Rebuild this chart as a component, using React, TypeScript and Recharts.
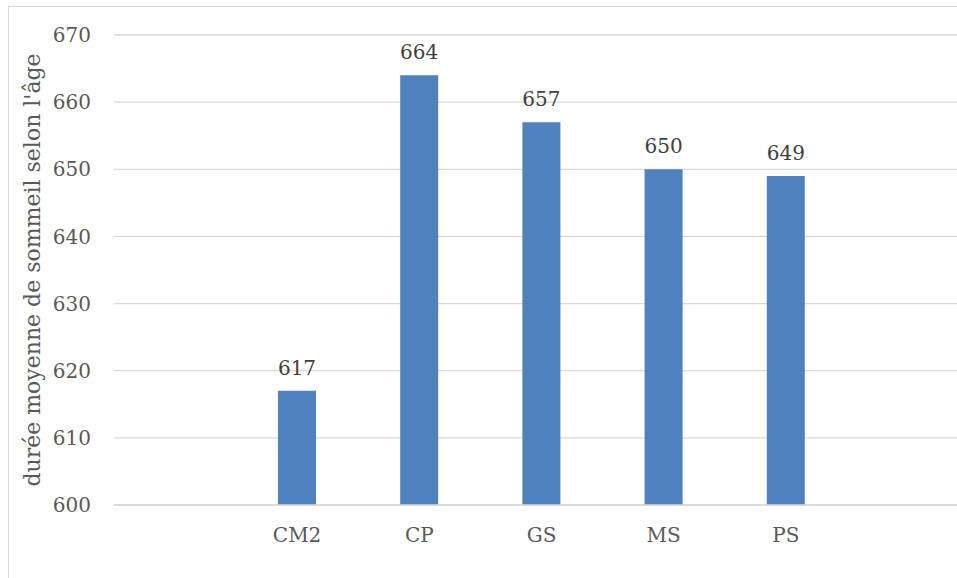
import { BarChart, Bar, XAxis, YAxis, CartesianGrid, LabelList } from "recharts";

const categories = ["CM2", "CP", "GS", "MS", "PS"];
const sleepValues = [617, 664, 657, 650, 649];
const yTicks = [600, 610, 620, 630, 640, 650, 660, 670];
const yTitle = "durée moyenne de sommeil selon l'âge";

const data = categories.map((name, i) => ({ name, value: sleepValues[i] }));

const FONT = "'DejaVu Serif', serif";

export default function App() {
  return (
    <div
      style={{
        position: "absolute",
        left: 8,
        top: 6,
        width: 948,
        height: 571,
        borderTop: "1px solid #d9d9d9",
        borderLeft: "1px solid #d9d9d9",
        fontFamily: FONT,
      }}
    >
      <BarChart
        width={948}
        height={571}
        data={data}
        margin={{ top: 28, right: 0, bottom: 0, left: 0 }}
        barCategoryGap={0}
      >
        <CartesianGrid vertical={false} stroke="#d9d9d9" strokeWidth={1.3} />
        <XAxis
          dataKey="name"
          height={73}
          padding={{ left: 122, right: 110 }}
          axisLine={{ stroke: "#d9d9d9", strokeWidth: 1.3 }}
          tickLine={false}
          tickSize={0}
          tickMargin={23}
          tick={{ fill: "#595959", fontSize: 20, fontFamily: FONT }}
        />
        <YAxis
          width={105}
          domain={[600, 670]}
          ticks={yTicks}
          interval={0}
          axisLine={false}
          tickLine={false}
          tickSize={0}
          tickMargin={23}
          tick={{ fill: "#595959", fontSize: 20, fontFamily: FONT }}
          label={{
            content: (props: any) => {
              const vb = props.viewBox;
              const cy = vb.y + vb.height / 2;
              return (
                <text
                  x={23}
                  y={cy}
                  transform={`rotate(-90 23 ${cy})`}
                  textAnchor="middle"
                  dominantBaseline="central"
                  fill="#595959"
                  fontSize={22}
                  fontFamily={FONT}
                >
                  {yTitle}
                </text>
              );
            },
          }}
        />
        <Bar dataKey="value" fill="#4f81bd" barSize={38} isAnimationActive={false}>
          <LabelList
            dataKey="value"
            position="top"
            offset={16}
            fill="#404040"
            fontSize={20}
            fontFamily={FONT}
          />
        </Bar>
      </BarChart>
    </div>
  );
}
